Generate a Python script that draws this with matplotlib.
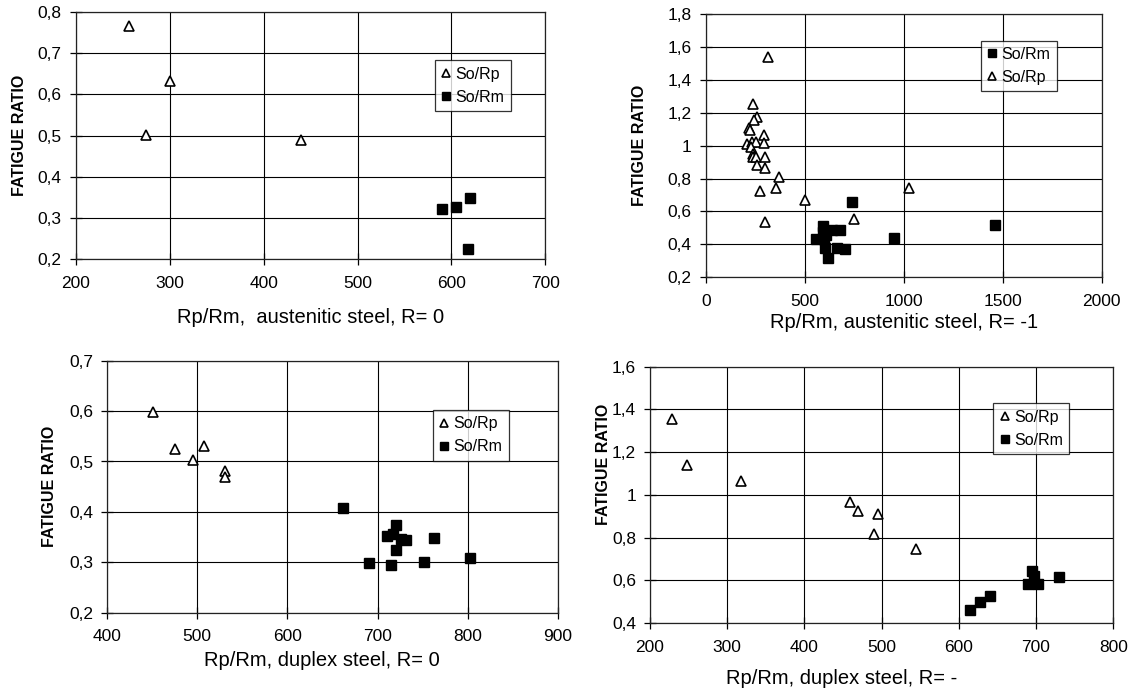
import matplotlib
matplotlib.use("Agg")
import matplotlib.pyplot as plt
from matplotlib.ticker import FuncFormatter, MultipleLocator

plt.rcParams['font.family'] = ['Liberation Sans', 'DejaVu Sans']

# ---- data ----
# austenitic steel, R = 0
a0_rp_x = [257, 300, 275, 440]
a0_rp_y = [0.765, 0.632, 0.501, 0.489]
a0_rm_x = [590, 605, 620, 618]
a0_rm_y = [0.323, 0.327, 0.348, 0.224]

# austenitic steel, R = -1
a1_rm_x = [741, 1463, 953, 555, 595, 595, 600, 605, 617, 639, 679, 662, 706, 610]
a1_rm_y = [0.655, 0.518, 0.437, 0.435, 0.510, 0.475, 0.435, 0.381, 0.319, 0.489, 0.489, 0.381, 0.369, 0.455]
a1_rp_x = [315, 241, 258, 245, 221, 223, 296, 210, 234, 252, 296, 228, 241, 241,
           252, 302, 258, 302, 370, 355, 274, 502, 1025, 749, 302]
a1_rp_y = [1.537, 1.253, 1.176, 1.156, 1.105, 1.095, 1.065, 1.008, 1.024, 1.024, 1.014, 0.994, 0.949, 0.933,
           0.933, 0.933, 0.883, 0.866, 0.810, 0.745, 0.725, 0.670, 0.741, 0.555, 0.534]

# duplex steel, R = 0
d0_rp_x = [451, 475, 495, 508, 531, 531]
d0_rp_y = [0.598, 0.525, 0.503, 0.531, 0.482, 0.470]
d0_rm_x = [662, 720, 710, 717, 726, 731, 720, 690, 715, 751, 763, 803]
d0_rm_y = [0.408, 0.375, 0.353, 0.357, 0.347, 0.344, 0.325, 0.299, 0.295, 0.300, 0.348, 0.309]

# duplex steel, R = -
d1_rp_x = [229, 248, 318, 459, 470, 495, 490, 545]
d1_rp_y = [1.357, 1.138, 1.065, 0.968, 0.926, 0.909, 0.817, 0.745]
d1_rm_x = [614, 627, 641, 690, 695, 697, 703, 730]
d1_rm_y = [0.461, 0.497, 0.528, 0.581, 0.645, 0.622, 0.581, 0.617]


def comma_fmt(v, pos):
    if abs(v - round(v)) < 1e-9:
        return str(int(round(v)))
    return f"{v:.1f}".replace('.', ',')


W, H = 1131, 689
fig = plt.figure(figsize=(W / 100, H / 100), dpi=100)


def px_axes(l, t, r, b):
    return fig.add_axes([l / W, 1 - b / H, (r - l) / W, (b - t) / H])


def style(ax, xlim, xstep, ylim, ystep, xlabel, xl_pos, yl_pos):
    ax.set_xlim(*xlim)
    ax.set_ylim(*ylim)
    ax.xaxis.set_major_locator(MultipleLocator(xstep))
    ax.yaxis.set_major_locator(MultipleLocator(ystep))
    ax.yaxis.set_major_formatter(FuncFormatter(comma_fmt))
    ax.grid(True, color='black', linewidth=0.8)
    ax.set_axisbelow(True)
    for s in ax.spines.values():
        s.set_color('#222222')
        s.set_linewidth(0.9)
    ax.tick_params(direction='inout', length=8, width=0.9, labelsize=12.5,
                   colors='black')
    ax.tick_params(axis='x', pad=8)
    ax.tick_params(axis='y', pad=6)
    ax.set_xlabel(xlabel, fontsize=14.5)
    ax.xaxis.label.set_va('center')
    ax.xaxis.set_label_coords(*xl_pos)
    ax.set_ylabel('FATIGUE RATIO', fontsize=11.5, fontweight='bold')
    ax.yaxis.label.set_va('center')
    ax.yaxis.set_label_coords(*yl_pos)


def tri(ax, x, y, label):
    ax.plot(x, y, '^', ms=7.5, mfc='white', mec='black', mew=1.2, ls='none',
            label=label, zorder=3)


def sq(ax, x, y, label):
    ax.plot(x, y, 's', ms=7.5, mfc='black', mec='black', ls='none',
            label=label, zorder=3)


def legend(ax, fx, fy):
    leg = ax.legend(loc='upper left', bbox_to_anchor=(fx / W, 1 - fy / H),
                    bbox_transform=fig.transFigure, borderaxespad=0,
                    frameon=True, fancybox=False, edgecolor='black',
                    fontsize=11.5, handlelength=0.6, handletextpad=0.3,
                    borderpad=0.4, labelspacing=0.5, markerscale=0.8)
    leg.get_frame().set_linewidth(0.9)


# top left
ax1 = px_axes(75.7, 12, 545.4, 259.3)
tri(ax1, a0_rp_x, a0_rp_y, 'So/Rp')
sq(ax1, a0_rm_x, a0_rm_y, 'So/Rm')
style(ax1, (200, 700), 100, (0.2, 0.8), 0.1,
      'Rp/Rm,  austenitic steel, R= 0', (0.5, -0.237), (-0.119, 0.5))
legend(ax1, 435, 60.3)

# top right
ax2 = px_axes(705.7, 14, 1101.5, 277.3)
sq(ax2, a1_rm_x, a1_rm_y, 'So/Rm')
tri(ax2, a1_rp_x, a1_rp_y, 'So/Rp')
style(ax2, (0, 2000), 500, (0.2, 1.8), 0.2,
      'Rp/Rm, austenitic steel, R= -1', (0.5, -0.172), (-0.166, 0.5))
legend(ax2, 980.6, 40.7)

# bottom left
ax3 = px_axes(107.1, 360.7, 557.9, 612.7)
tri(ax3, d0_rp_x, d0_rp_y, 'So/Rp')
sq(ax3, d0_rm_x, d0_rm_y, 'So/Rm')
style(ax3, (400, 900), 100, (0.2, 0.7), 0.1,
      'Rp/Rm, duplex steel, R= 0', (0.477, -0.19), (-0.127, 0.5))
legend(ax3, 432.9, 410)

# bottom right
ax4 = px_axes(650, 366.7, 1113.2, 623)
tri(ax4, d1_rp_x, d1_rp_y, 'So/Rp')
sq(ax4, d1_rm_x, d1_rm_y, 'So/Rm')
style(ax4, (200, 800), 100, (0.4, 1.6), 0.2,
      'Rp/Rm, duplex steel, R= -', (0.4145, -0.215), (-0.101, 0.62))
legend(ax4, 993.4, 403.3)

fig.savefig('out.png', dpi=100)
